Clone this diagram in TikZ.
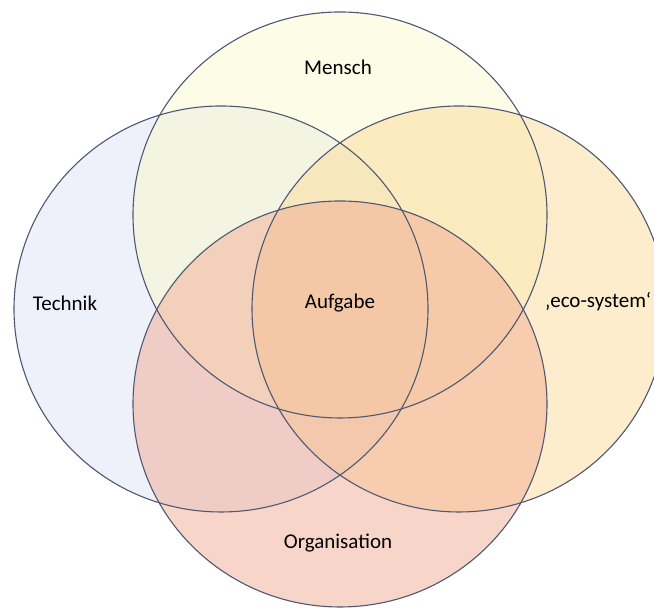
\documentclass[tikz,border=0pt]{standalone}
\usepackage{fontspec}
\setmainfont{Carlito}
\definecolor{technikblue}{HTML}{DDE3F5}
\definecolor{menschyellow}{HTML}{FBF9CD}
\definecolor{ecoorange}{HTML}{FBDB99}
\definecolor{orgpink}{HTML}{F1AB93}
\definecolor{ringline}{HTML}{4E5872}

\begin{document}
\begin{tikzpicture}[line cap=round,line join=round,x=0.5pt,y=0.5pt,
		ringfill/.style={fill opacity=0.5},
		ringline/.style={draw=ringline,line width=0.55pt},
		setlabel/.style={font=\fontsize{10.5}{12}\selectfont,text=black}]
		\useasboundingbox (0,0) rectangle (654,608);
		\clip (0,0) rectangle (654,608);
		% filled sets, see-through
		\fill [ringfill,fill=technikblue] (221,299) ellipse [x radius=207,y radius=203];
		\fill [ringfill,fill=menschyellow] (340,393) ellipse [x radius=207,y radius=203];
		\fill [ringfill,fill=ecoorange] (459,299) ellipse [x radius=207,y radius=203];
		\fill [ringfill,fill=orgpink] (340,204) ellipse [x radius=207,y radius=203];
		% outlines on top
		\foreach \cx/\cy in {221/299,340/393,459/299,340/204}
			\draw [ringline] (\cx,\cy) ellipse [x radius=207,y radius=203];
		% labels
		\node[setlabel] (mensch) at (338,541) {Mensch};
		\node[setlabel] (technik) at (65,305) {Technik};
		\node[setlabel] (aufgabe) at (340,305) {Aufgabe};
		\node[setlabel] (eco) at (598,306) {‚eco-system‘};
		\node[setlabel] (organisation) at (338,65) {Organisation};
	\end{tikzpicture}
\end{document}
